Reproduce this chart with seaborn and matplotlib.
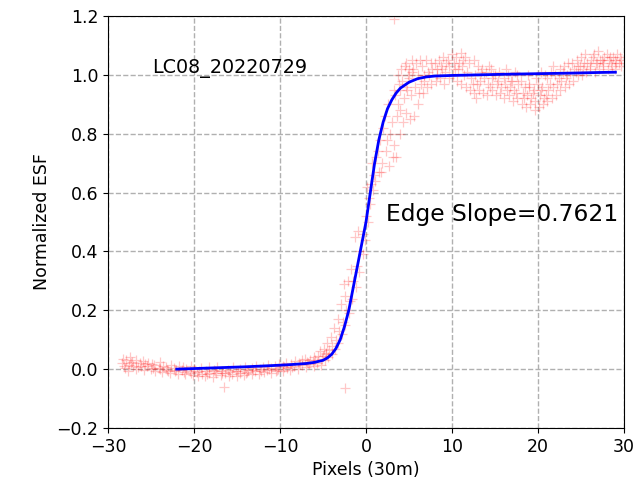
import matplotlib
matplotlib.use("Agg")
import matplotlib.pyplot as plt
import seaborn as sns
import numpy as np
import pandas as pd

# ---- scatter data (edge spread samples) ----
base_x = [-28.4, -28.3, -28.0, -27.9, -27.6, -27.5, -27.7, -27.2, -27.1, -26.8, -26.7,
          -26.3, -26.2, -25.9, -25.8, -25.5, -25.4, -25.0, -24.9, -24.6, -24.5, -24.1,
          -24.0, -23.7, -23.6, -23.2, -23.1, -22.8, -22.7, -22.3, -22.2, -21.9, -21.8,
          -21.4, -21.3, -21.0, -20.9, -20.5, -20.4, -20.1, -20.0, -19.6, -19.5, -19.2,
          -19.1, -18.7, -18.6, -18.3, -18.2, -17.8, -17.7, -17.4, -17.3, -16.9, -16.8,
          -16.5, -16.4, -16.0, -15.9, -15.6, -15.5, -15.1, -15.0, -14.7, -14.6, -14.2,
          -14.1, -13.8, -13.7, -13.3, -13.2, -12.9, -12.8, -12.4, -12.3, -12.0, -11.9,
          -11.5, -11.4, -11.1, -11.0, -10.6, -10.5, -10.2, -10.1, -9.7, -9.6, -9.3, -9.2,
          -8.8, -8.7, -8.4, -8.3, -7.9, -7.8, -7.5, -7.4, -7.0, -6.9, -7.1, -6.6, -6.5,
          -6.1, -6.0, -6.2, -5.7, -5.6, -5.2, -5.1, -5.3]
base_y = [0.02, 0.035, 0.005, 0.03, 0.015, 0.04, -0.005, 0.025, 0.01, 0.0, 0.03,
          0.02, 0.012, 0.028, -0.004, 0.01, 0.022, 0.0, 0.018, 0.015, -0.008, 0.005,
          0.025, -0.01, 0.012, 0.008, -0.002, -0.012, 0.015, 0.004, -0.006, -0.015, 0.01,
          -0.004, 0.006, -0.018, 0.0, -0.008, 0.012, -0.02, 0.002, -0.01, -0.025, 0.004,
          -0.015, -0.022, -0.006, -0.012, 0.006, -0.026, -0.002, -0.014, 0.008, -0.02, -0.008,
          -0.059, -0.012, -0.004, -0.022, -0.016, 0.006, -0.008, -0.024, 0.0, -0.014, -0.02,
          0.008, -0.01, -0.004, 0.004, -0.018, -0.008, 0.01, -0.016, 0.002, 0.006, -0.01,
          -0.004, 0.014, -0.014, 0.004, 0.01, -0.006, 0.0, 0.018, -0.008, 0.012, 0.02, 0.004,
          -0.004, 0.016, 0.01, 0.026, 0.002, 0.02, 0.014, 0.03, 0.008, 0.024, 0.036, 0.016, 0.03,
          0.01, 0.04, 0.024, 0.02, 0.045, 0.015, 0.035, 0.06]

base_fill_x = [-28.15, -27.35, -26.55, -25.7, -24.8, -23.9, -23.0, -22.05, -21.2, -20.3,
               -19.4, -18.5, -17.6, -16.7, -15.8, -14.9, -14.0, -13.1, -12.2, -11.3,
               -10.4, -9.5, -8.6, -7.7, -6.8, -5.9, -5.0, -4.6]
base_fill_y = [0.012, 0.02, 0.008, 0.016, 0.004, 0.0, -0.006, -0.002, -0.01, -0.012,
               -0.006, -0.016, -0.008, -0.014, -0.01, -0.006, -0.012, -0.002, -0.006, 0.002,
               -0.002, 0.006, 0.008, 0.018, 0.02, 0.03, 0.045, 0.055]

edge_x = [-4.8, -4.7, -4.9, -4.4, -4.3, -4.5, -4.0, -3.9, -4.1, -3.6, -3.5, -3.7,
          -3.2, -3.1, -3.3, -2.8, -2.7, -2.9, -2.6, -2.5, -2.4, -2.3, -2.5, -2.0,
          -1.9, -2.1, -1.6, -1.5, -1.7, -1.2, -1.1, -1.3, -0.8, -0.7, -0.9, -0.4,
          -0.3, -0.1, 0.0, 0.2, 0.3, 0.1, 0.5, 0.6, 0.8, 0.9, 0.7, 1.1, 1.2, 1.5,
          1.6, 1.4, 1.9, 2.0, 1.8, 2.3, 2.4, 2.2, 2.7, 2.8, 2.6, 3.1, 3.2, 3.0, 3.2, 3.3]
edge_y = [0.03, 0.05, 0.07, 0.04, 0.065, 0.09, 0.05, 0.08, 0.11, 0.07, 0.1, 0.14,
          0.09, 0.13, 0.17, 0.12, 0.16, 0.22, 0.29, -0.065, 0.15, 0.2, 0.25, 0.19,
          0.23, 0.3, 0.24, 0.3, 0.34, 0.28, 0.35, 0.45, 0.33, 0.4, 0.47, 0.39,
          0.46, 0.44, 0.52, 0.5, 0.58, 0.62, 0.56, 0.63, 0.61, 0.66, 0.7, 0.64, 0.72, 0.67,
          0.78, 0.74, 0.7, 0.82, 0.67, 0.74, 0.78, 0.86, 0.69, 0.8, 0.9, 0.72, 0.76, 0.84, 0.95, 1.19]

top_x = [3.5, 3.6, 3.4, 3.7, 3.9, 4.0, 3.8, 4.1, 4.3, 4.4, 4.2, 4.5, 4.7, 4.8, 4.6, 4.9,
         5.1, 5.2, 5.0, 5.3, 5.6, 5.7, 5.5, 5.8, 6.1, 6.2, 6.0, 6.3, 6.6, 6.7, 6.5,
         7.1, 7.2, 7.0, 7.6, 7.7, 7.5, 8.1, 8.2, 8.0, 8.6, 8.7, 8.5, 9.1, 9.2, 9.0,
         9.6, 9.7, 9.5, 10.1, 10.2, 10.0, 10.6, 10.7, 10.5, 11.1, 11.2, 11.0, 11.3,
         11.6, 11.7, 11.5, 12.1, 12.2, 12.0, 12.6, 12.7, 12.5, 12.8, 13.1, 13.2, 13.0,
         13.6, 13.7, 13.5, 14.1, 14.2, 14.0, 14.3, 14.6, 14.7, 14.5, 15.1, 15.2, 15.0,
         15.6, 15.7, 15.5, 16.1, 16.2, 16.0, 16.3, 16.6, 16.7, 16.5, 17.1, 17.2, 17.0,
         17.3, 17.6, 17.7, 17.5, 18.1, 18.2, 18.0, 18.6, 18.7, 18.5, 18.8, 19.1, 19.2,
         19.0, 19.6, 19.7, 19.5, 19.8, 20.1, 20.2, 20.0, 20.3, 20.6, 20.7, 20.5, 20.8,
         21.1, 21.2, 21.0, 21.6, 21.7, 21.5, 21.8, 22.1, 22.2, 22.0, 22.6, 22.7, 22.5,
         23.1, 23.2, 23.0, 23.6, 23.7, 23.5, 24.1, 24.2, 24.0, 24.6, 24.7, 24.5, 25.1,
         25.2, 25.0, 25.6, 25.7, 25.5, 26.1, 26.2, 26.0, 26.6, 26.7, 26.5, 27.1, 27.2,
         27.0, 27.6, 27.7, 27.5, 28.1, 28.2, 28.0, 28.6, 28.7, 28.5, 29.1, 29.2, 29.0,
         29.6, 29.7, 29.5]
top_y = [0.72, 0.86, 0.93, 1.0, 0.8, 0.88, 0.97, 1.02, 0.84, 0.92, 0.98, 1.03, 0.87, 0.95, 1.04, 1.0,
         0.85, 0.93, 0.99, 1.05, 0.86, 0.96, 1.02, 1.04, 0.9, 0.94, 1.0, 1.05, 0.94, 0.98, 1.03,
         0.96, 1.01, 1.05, 0.97, 1.02, 1.04, 0.98, 1.0, 1.04, 0.99, 1.03, 1.05, 0.97, 1.01, 1.06,
         0.99, 1.03, 1.05, 1.0, 1.04, 1.07, 0.98, 1.02, 1.06, 0.97, 1.03, 1.075, 1.05,
         0.96, 1.01, 1.06, 0.95, 0.99, 1.04, 0.94, 1.0, 1.05, 0.92, 0.95, 0.98, 1.03,
         0.94, 0.99, 1.02, 0.93, 0.97, 1.01, 1.03, 0.95, 0.99, 1.02, 0.93, 0.97, 1.0,
         0.94, 0.96, 1.01, 0.92, 0.97, 0.99, 1.02, 0.93, 0.96, 1.0, 0.91, 0.95, 0.98,
         1.01, 0.92, 0.97, 1.0, 0.9, 0.94, 0.98, 0.89, 0.93, 0.96, 1.0, 0.9, 0.92,
         0.97, 0.88, 0.91, 0.95, 0.99, 0.89, 0.93, 0.97, 1.01, 0.9, 0.92, 0.96, 1.0,
         0.91, 0.95, 0.99, 0.92, 0.96, 1.01, 1.03, 0.93, 0.97, 1.0, 0.95, 0.98, 1.02,
         0.96, 0.99, 1.03, 0.97, 1.01, 1.04, 0.98, 1.02, 1.04, 1.0, 1.03, 1.05, 1.0,
         1.02, 1.06, 1.01, 1.04, 1.07, 1.02, 1.05, 1.03, 1.01, 1.04, 1.07, 1.02, 1.05,
         1.08, 1.03, 1.06, 1.04, 1.02, 1.05, 1.07, 1.03, 1.06, 1.04, 1.04, 1.07, 1.02,
         1.03, 1.05, 1.06]

top_fill_x = [3.7, 4.6, 5.4, 6.4, 7.3, 8.3, 9.3, 10.3, 11.4, 12.4, 13.4, 14.4, 15.4, 16.4,
              17.4, 18.4, 19.4, 20.4, 21.4, 22.4, 23.4, 24.4, 25.4, 26.4, 27.4, 28.4, 29.4,
              4.0, 5.0, 6.8, 8.8, 10.8, 12.9, 14.8, 16.9, 18.9, 20.9, 22.9, 24.9, 26.9, 28.9]
top_fill_y = [0.9, 0.96, 1.01, 0.97, 1.0, 1.02, 1.04, 1.02, 1.0, 0.97, 1.01, 0.96, 0.98, 0.95,
              0.94, 0.92, 0.94, 0.95, 0.97, 0.99, 1.0, 1.01, 1.04, 1.06, 1.05, 1.06, 1.04,
              0.95, 1.02, 1.0, 1.02, 1.04, 0.97, 1.0, 0.98, 0.96, 0.93, 1.01, 1.03, 1.04, 1.05]

# ---- fitted ESF curve ----
fit_x = [-22, -20, -17, -14, -11, -9, -7, -6, -5, -4.5, -4, -3.5, -3, -2.5, -2, -1.5,
         -1, -0.5, 0, 0.5, 1, 1.5, 2, 2.5, 3, 3.5, 4, 5, 6, 7, 8, 10, 13, 16, 20, 24, 27, 29]
fit_y = [0.0, 0.002, 0.005, 0.008, 0.012, 0.015, 0.019, 0.023, 0.03, 0.038, 0.05, 0.07,
         0.1, 0.145, 0.2, 0.275, 0.35, 0.425, 0.5, 0.6, 0.7, 0.78, 0.84, 0.885, 0.915,
         0.938, 0.955, 0.975, 0.987, 0.993, 0.996, 0.998, 1.0, 1.002, 1.004, 1.006, 1.008, 1.009]

x_ticks = [-30, -20, -10, 0, 10, 20, 30]
y_ticks = [-0.2, 0.0, 0.2, 0.4, 0.6, 0.8, 1.0, 1.2]
scene_label = "LC08_20220729"
slope_label = "Edge Slope=0.7621"

pts = pd.DataFrame({
    "x": base_x + base_fill_x + edge_x + top_x + top_fill_x,
    "y": base_y + base_fill_y + edge_y + top_y + top_fill_y,
})
fit = pd.DataFrame({"x": fit_x, "y": fit_y})

fig = plt.figure(figsize=(6.36, 4.92), dpi=100)
ax = fig.add_axes([108 / 636, 64 / 492, 516 / 636, 412 / 492])

sns.scatterplot(data=pts, x="x", y="y", ax=ax, marker="+", color="red",
                s=50, linewidth=0.9, alpha=0.22, zorder=2)
sns.lineplot(data=fit, x="x", y="y", ax=ax, color="blue", linewidth=2, zorder=3)

ax.set_xlim(-30, 30)
ax.set_ylim(-0.2, 1.2)
ax.set_xticks(x_ticks)
ax.set_yticks(y_ticks)
ax.tick_params(labelsize=12.5)
ax.grid(True, linestyle="--", color="#b0b0b0", linewidth=1.0, zorder=0)
ax.set_axisbelow(True)
ax.set_xlabel("Pixels (30m)", fontsize=12.5)
ax.set_ylabel("Normalized ESF", fontsize=12.5)

ax.text(-24.9, 1.021, scene_label, fontsize=13.8, va="center", ha="left")
ax.text(2.3, 0.524, slope_label, fontsize=16.8, va="center", ha="left")

fig.savefig("out.png", dpi=100)
